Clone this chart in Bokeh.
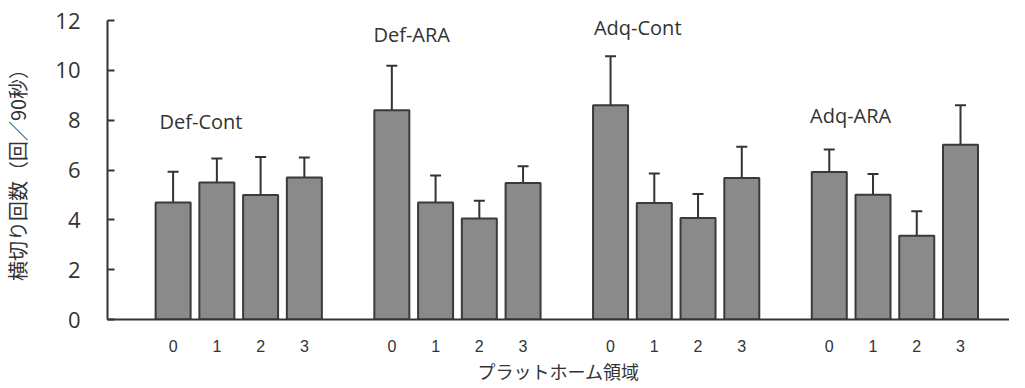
from bokeh.plotting import figure
from bokeh.models import ColumnDataSource, FixedTicker, Whisker, TeeHead, Range1d, Label
from bokeh.embed import file_html
from bokeh.resources import INLINE

# ---- data ----
groups = ["Def-Cont", "Def-ARA", "Adq-Cont", "Adq-ARA"]
zones = ["0", "1", "2", "3"]
means = [4.70, 5.50, 5.00, 5.70,
         8.40, 4.70, 4.05, 5.48,
         8.60, 4.68, 4.07, 5.68,
         5.92, 5.01, 3.36, 7.01]
sems = [1.23, 0.96, 1.52, 0.80,
        1.78, 1.08, 0.72, 0.67,
        1.97, 1.18, 0.97, 1.25,
        0.90, 0.83, 0.98, 1.59]
y_ticks = [0, 2, 4, 6, 8, 10, 12]
y_label = "横切り回数（回／90秒）"
x_label = "プラットホーム領域"

# group label placement (annotation positions)
group_label_x = [1.19, 6.08, 11.12, 16.06]
group_label_y = [7.94, 11.44, 11.70, 8.19]

# ---- derived positions ----
xs = []
tick_labels = []
for g in range(len(groups)):
    for k in range(len(zones)):
        xs.append(1.5 + g * 5 + k)
        tick_labels.append(zones[k])
upper = [m + s for m, s in zip(means, sems)]
lower = [m - s for m, s in zip(means, sems)]

src = ColumnDataSource(dict(x=xs, top=means, upper=upper, lower=lower))

p = figure(width=1009, height=386, output_backend="svg", toolbar_location=None,
           x_range=Range1d(0, 20.62), y_range=Range1d(0, 12),
           min_border_left=104, min_border_right=0, min_border_top=20, min_border_bottom=60)
p.outline_line_color = None
p.xgrid.visible = False
p.ygrid.visible = False
p.background_fill_color = "white"

p.vbar(x="x", top="top", bottom=0, width=0.8, source=src,
       fill_color="#8a8a8a", line_color="#3a3a3a", line_width=2)

w = Whisker(base="x", upper="upper", lower="lower", source=src,
            line_color="#333333", line_width=2,
            upper_head=TeeHead(size=11, line_color="#333333", line_width=2),
            lower_head=TeeHead(size=11, line_color="#333333", line_width=2))
p.add_layout(w)

# y axis
ya = p.yaxis[0]
ya.ticker = FixedTicker(ticks=y_ticks)
ya.axis_line_color = "#333333"
ya.axis_line_width = 2
ya.major_tick_line_color = "#333333"
ya.major_tick_line_width = 2
ya.major_tick_in = 7
ya.major_tick_out = 0
ya.minor_tick_line_color = None
ya.major_label_standoff = 27
ya.major_label_text_font = "Open Sans"
ya.major_label_text_font_size = "22px"
ya.major_label_text_color = "#333333"
ya.axis_label = y_label
ya.axis_label_text_font = "Noto Sans CJK JP"
ya.axis_label_text_font_size = "20px"
ya.axis_label_text_font_style = "normal"
ya.axis_label_text_color = "#333333"
ya.axis_label_standoff = 20

# x axis
xa = p.xaxis[0]
xa.ticker = FixedTicker(ticks=xs)
xa.major_label_overrides = {x: t for x, t in zip(xs, tick_labels)}
xa.axis_line_color = "#333333"
xa.axis_line_width = 2
xa.major_tick_line_color = None
xa.minor_tick_line_color = None
xa.major_tick_in = 0
xa.major_tick_out = 0
xa.major_label_standoff = 20
xa.major_label_text_font = "Liberation Sans"
xa.major_label_text_font_size = "16px"
xa.major_label_text_color = "#333333"
xa.axis_label = x_label
xa.axis_label_text_font = "Noto Sans CJK JP"
xa.axis_label_text_font_size = "18px"
xa.axis_label_text_font_style = "normal"
xa.axis_label_text_color = "#333333"
xa.axis_label_standoff = 3

for name, lx, ly in zip(groups, group_label_x, group_label_y):
    p.add_layout(Label(x=lx, y=ly, text=name, text_font="Open Sans",
                       text_font_size="20px", text_color="#333333",
                       text_align="left", text_baseline="middle"))

open("out.html", "w").write(file_html(p, INLINE))
